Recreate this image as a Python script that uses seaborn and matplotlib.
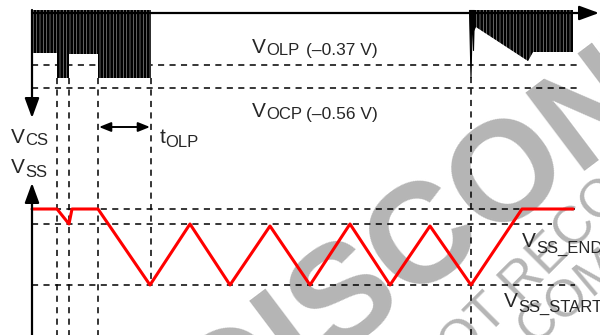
import matplotlib
matplotlib.use("Agg")
import matplotlib.pyplot as plt
import seaborn as sns

# ------------------------------------------------------------------
# Diagram data (x = time along the sheet, y = height on the sheet)
# ------------------------------------------------------------------
# soft-start voltage V_SS (red trace)
ss_time = [32, 57, 69, 72, 98, 150, 190, 230, 270, 310, 350, 390, 430, 471, 522, 573]
ss_level = [126, 126, 111, 126, 126, 50, 111, 50, 109, 50, 111, 50, 109, 50, 126, 126]

# V_CS switching bursts: envelope of the pulse bottoms
burst1_time = [32, 57, 57, 69, 69, 98, 98, 151]
burst1_low = [282, 282, 257, 257, 281, 281, 257, 257]
burst2_time = [472, 476, 528, 533, 573]
burst2_low = [300, 308, 274, 283, 283]
spike_time = [469, 470.5, 472, 473, 474]
spike_low = [325, 258, 325, 285, 325]
pulse_top = 325

# reference levels (dashed)
levels = {
    "olp": (270, 32, 580),
    "ocp": (247, 32, 580),
    "ss_top": (126, 32, 575),
    "ss_end": (111, 32, 552),
    "ss_start": (50, 32, 575),
}
# event markers (vertical dashed): time, upper end, lower end
markers = [(57, 257, 0), (69, 257, 0), (98, 257, 0), (151, 257, 50), (471, 258, 0)]

axis_x = 32
cs_axis_y = 322
ss_axis_y = 2

sns.set_style("white")
plt.rcParams["font.family"] = ["Liberation Sans", "DejaVu Sans"]
plt.rcParams["hatch.linewidth"] = 1.9
plt.rcParams["hatch.color"] = "black"

fig = plt.figure(figsize=(6, 3.35), dpi=100)
ax = fig.add_axes([0, 0, 1, 1])
ax.set_xlim(0, 600)
ax.set_ylim(0, 335)
ax.axis("off")

# watermark
wm = "#b5b5b5"
ax.text(218, -105, "DISCONTINUED", fontsize=102, fontweight="bold", color=wm,
        rotation=37, rotation_mode="anchor", ha="left", va="baseline", zorder=0)
ax.text(432, -58, "NOT RECOMMENDED FOR NEW DESIGNS", fontsize=38, color=wm,
        rotation=45, rotation_mode="anchor", ha="left", va="baseline", zorder=0)
ax.text(533, -12, "COMPONENT", fontsize=37, color=wm,
        rotation=40, rotation_mode="anchor", ha="left", va="baseline", zorder=0)

# dashed reference lines
dash = (0, (4, 3.5))
for y, x0, x1 in levels.values():
    ax.plot([x0, x1], [y, y], color="black", lw=1.1, ls=dash, zorder=2)
for x, y0, y1 in markers:
    ax.plot([x, x], [y0, y1], color="black", lw=1.1, ls=dash, zorder=2)

# V_CS pulse bursts
ax.fill_between(burst1_time, burst1_low, pulse_top, facecolor="#8c8c8c",
                edgecolor="black", hatch="|||||", linewidth=0, zorder=3)
ax.fill_between(burst2_time, burst2_low, pulse_top, facecolor="#8c8c8c",
                edgecolor="black", hatch="|||||", linewidth=0, zorder=3)
ax.fill_between(spike_time, spike_low, pulse_top, color="black", lw=0.8, zorder=3)

# soft-start trace
sns.lineplot(x=ss_time, y=ss_level, sort=False, color="#ff0000", lw=2.2, ax=ax, zorder=4)

# axes arrows
head = dict(arrowstyle="-|>,head_length=0.6,head_width=0.22", mutation_scale=20,
            lw=1.6, color="black", shrinkA=0, shrinkB=0)
ax.annotate("", xy=(axis_x, 217), xytext=(axis_x, 325), arrowprops=head, zorder=5)
ax.annotate("", xy=(599, cs_axis_y), xytext=(axis_x, cs_axis_y), arrowprops=head, zorder=5)
ax.annotate("", xy=(axis_x, 152), xytext=(axis_x, 0), arrowprops=head, zorder=5)
ax.annotate("", xy=(602, ss_axis_y), xytext=(axis_x, ss_axis_y), arrowprops=head, zorder=5)

# t_OLP span arrow
ax.annotate("", xy=(150, 208), xytext=(99, 208),
            arrowprops=dict(arrowstyle="<|-|>,head_length=0.5,head_width=0.2",
                            mutation_scale=14, lw=1.4, color="black",
                            shrinkA=0, shrinkB=0), zorder=5)


def sub_label(x, y, main, sub, drop, fs_main=15, fs_sub=12):
    ax.text(x, y, main, ha="right", va="baseline", fontsize=fs_main, zorder=6)
    ax.text(x, y - drop, sub, ha="left", va="baseline", fontsize=fs_sub, zorder=6)


sub_label(266, 282, "V", "OLP", 2)
ax.text(306, 280, "(\u20130.37 V)", ha="left", va="baseline", fontsize=12.5, zorder=6)
sub_label(266, 218, "V", "OCP", 2)
ax.text(306, 216, "(\u20130.56 V)", ha="left", va="baseline", fontsize=12.5, zorder=6)
sub_label(25, 192, "V", "CS", 2)
sub_label(25, 162, "V", "SS", 4)
sub_label(165, 192, "t", "OLP", 4)
sub_label(536, 88, "V", "SS_END", 6)
sub_label(518, 28, "V", "SS_START", 5)

fig.savefig("out.png", dpi=100)
